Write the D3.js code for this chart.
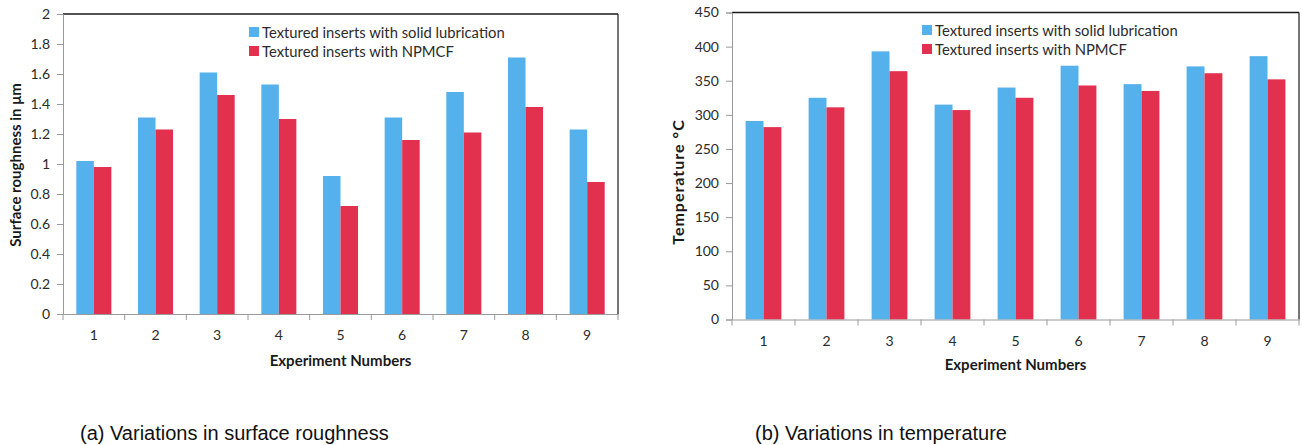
<!DOCTYPE html>
<html>
<head>
<meta charset="utf-8">
<script src="https://cdn.jsdelivr.net/npm/d3@7"></script>
<style>
  html, body { margin: 0; padding: 0; background: #fff; }
  svg { display: block; }
</style>
</head>
<body>
<svg id="chart" width="1303" height="445"></svg>
<script>
// ---- data ----
const experiments = ["1", "2", "3", "4", "5", "6", "7", "8", "9"];
const seriesNames = ["Textured inserts with solid lubrication", "Textured inserts with NPMCF"];
const roughnessSolid = [1.02, 1.31, 1.61, 1.53, 0.92, 1.31, 1.48, 1.71, 1.23];
const roughnessNPMCF = [0.98, 1.23, 1.46, 1.30, 0.72, 1.16, 1.21, 1.38, 0.88];
const temperatureSolid = [291, 325, 393, 315, 340, 372, 345, 371, 386];
const temperatureNPMCF = [282, 311, 364, 307, 325, 343, 335, 361, 352];
const roughnessTicks = [0, 0.2, 0.4, 0.6, 0.8, 1, 1.2, 1.4, 1.6, 1.8, 2];
const temperatureTicks = [0, 50, 100, 150, 200, 250, 300, 350, 400, 450];
const captions = ["(a) Variations in surface roughness", "(b) Variations in temperature"];
const colors = ["#55b1ec", "#e2304f"];

const svg = d3.select("#chart");
const FONT = "Lato, 'Liberation Sans', sans-serif";

function drawPanel(cfg) {
  const g = svg.append("g");
  const x = d3.scaleBand().domain(experiments).range([cfg.left, cfg.right]).paddingInner(0).paddingOuter(0);
  const y = d3.scaleLinear().domain(cfg.domain).range([cfg.bottom, cfg.top]);
  const inner = d3.scaleBand().domain([0, 1]).range([0, x.bandwidth()]).paddingOuter(0.76).paddingInner(0);

  // frame: top and right dark
  g.append("line").attr("x1", cfg.left).attr("x2", cfg.right).attr("y1", cfg.top).attr("y2", cfg.top)
    .attr("stroke", "#1a1a1a").attr("stroke-width", 1.5);
  g.append("line").attr("x1", cfg.right).attr("x2", cfg.right).attr("y1", cfg.top).attr("y2", cfg.bottom)
    .attr("stroke", "#1a1a1a").attr("stroke-width", 1.2);

  // bars
  [cfg.s1, cfg.s2].forEach((vals, si) => {
    g.append("g").selectAll("rect").data(vals).join("rect")
      .attr("x", (d, i) => x(experiments[i]) + inner(si))
      .attr("width", inner.bandwidth())
      .attr("y", d => y(d))
      .attr("height", d => y(0) - y(d))
      .attr("fill", colors[si]);
  });

  // y axis
  const ya = g.append("g").attr("transform", `translate(${cfg.left},0)`)
    .call(d3.axisLeft(y).tickValues(cfg.ticks).tickSize(6).tickPadding(7).tickFormat(d3.format("~g")));
  ya.select(".domain").attr("stroke", "#9a9a9a");
  ya.selectAll(".tick line").attr("stroke", "#9a9a9a");
  ya.selectAll(".tick text").attr("fill", "#2b2b2b").style("font-family", FONT).style("font-size", "14px");

  // x axis with ticks at band boundaries
  const xa = g.append("g").attr("transform", `translate(0,${cfg.bottom})`)
    .call(d3.axisBottom(x).tickSize(0).tickPadding(cfg.xPad));
  xa.select(".domain").attr("stroke", "#9a9a9a");
  xa.selectAll(".tick text").attr("fill", "#2b2b2b").style("font-family", FONT).style("font-size", "14px");
  const bounds = experiments.map(e => x(e)).concat([cfg.right]);
  g.append("g").selectAll("line").data(bounds).join("line")
    .attr("x1", d => d).attr("x2", d => d).attr("y1", cfg.bottom).attr("y2", cfg.bottom + 6)
    .attr("stroke", "#9a9a9a");

  // axis titles
  g.append("text").attr("x", (cfg.left + cfg.right) / 2).attr("y", cfg.xTitleY)
    .attr("text-anchor", "middle").style("font-family", FONT).style("font-weight", "bold")
    .style("font-size", "15px").attr("fill", "#1a1a1a").text("Experiment Numbers");
  g.append("text").attr("transform", `translate(${cfg.yTitleX},${cfg.yTitleY}) rotate(-90)`)
    .attr("text-anchor", "middle").attr("dominant-baseline", "central")
    .style("font-family", FONT).style("font-weight", "bold")
    .style("font-size", cfg.yTitleSize).style("letter-spacing", cfg.yTitleSpacing)
    .attr("fill", "#1a1a1a").text(cfg.yTitle);

  // legend
  seriesNames.forEach((n, i) => {
    const ly = cfg.legY + i * 19;
    g.append("rect").attr("x", cfg.legX).attr("y", ly - 5).attr("width", 10).attr("height", 10).attr("fill", colors[i]);
    g.append("text").attr("x", cfg.legX + 13).attr("y", ly).attr("dominant-baseline", "central")
      .style("font-family", FONT).style("font-size", "14.8px").attr("fill", "#2b2b2b").text(n);
  });

  // caption
  svg.append("text").attr("x", cfg.capX).attr("y", cfg.capY)
    .style("font-family", "'Liberation Sans', Arial, sans-serif").style("font-size", "20px")
    .attr("fill", "#111").text(cfg.caption);
}

drawPanel({
  left: 63, right: 618, top: 14, bottom: 314, domain: [0, 2], ticks: roughnessTicks,
  s1: roughnessSolid, s2: roughnessNPMCF, xPad: 16, xTitleY: 366,
  yTitle: "Surface roughness in μm", yTitleX: 15, yTitleY: 165, yTitleSize: "15px", yTitleSpacing: "0px",
  legX: 249, legY: 32, caption: captions[0], capX: 80, capY: 440
});
drawPanel({
  left: 732, right: 1299, top: 12.5, bottom: 319.5, domain: [0, 450], ticks: temperatureTicks,
  s1: temperatureSolid, s2: temperatureNPMCF, xPad: 17, xTitleY: 370,
  yTitle: "Temperature °C", yTitleX: 677, yTitleY: 182, yTitleSize: "16px", yTitleSpacing: "1px",
  legX: 922, legY: 30, caption: captions[1], capX: 755, capY: 440
});
</script>
</body>
</html>
